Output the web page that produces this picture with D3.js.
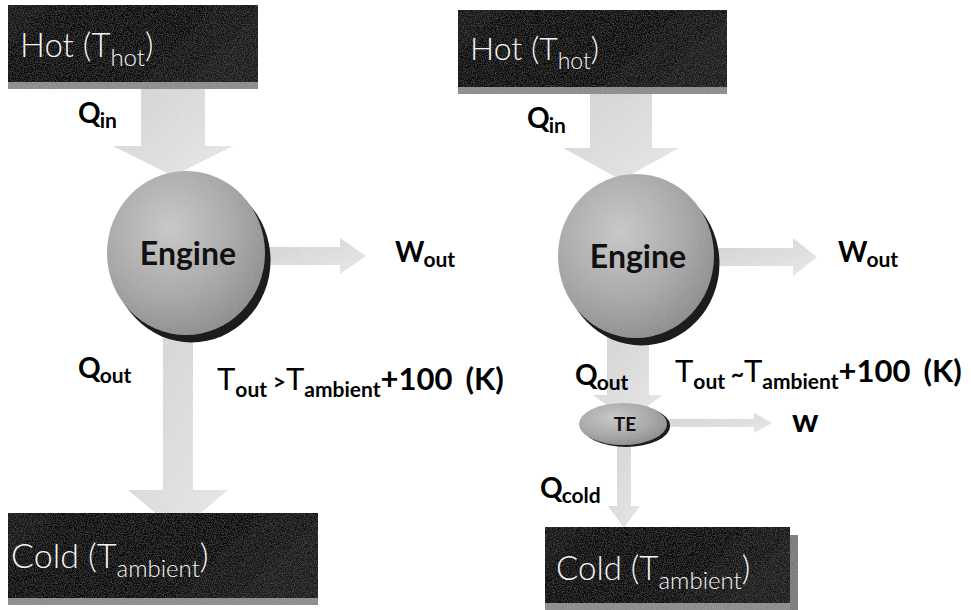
<!DOCTYPE html>
<html>
<head>
<meta charset="utf-8">
<script src="https://cdn.jsdelivr.net/npm/d3@7"></script>
<style>
  body { margin: 0; background: #fff; }
  svg { display: block; font-family: Lato, "Open Sans", sans-serif; }
</style>
</head>
<body>
<div id="diagram"></div>
<script>
// labels of the two panels (text only)
var reservoirLabels = [
  {id: "hotL",  base: "Hot (T",  sub: "hot",     tail: ")"},
  {id: "coldL", base: "Cold (T", sub: "ambient", tail: ")"},
  {id: "hotR",  base: "Hot (T",  sub: "hot",     tail: ")"},
  {id: "coldR", base: "Cold (T", sub: "ambient", tail: ")"}
]
var flowLabels = [
  {id: "qinL",  base: "Q", sub: "in"},
  {id: "woutL", base: "W", sub: "out"},
  {id: "qoutL", base: "Q", sub: "out"},
  {id: "qinR",  base: "Q", sub: "in"},
  {id: "woutR", base: "W", sub: "out"},
  {id: "qoutR", base: "Q", sub: "out"},
  {id: "qcold", base: "Q", sub: "cold"},
  {id: "w",     base: "w", sub: ""}
]
var tempLabels = [
  {id: "tL", rel: " >", rest: "+100", unit: "(K)"},
  {id: "tR", rel: " ~", rest: "+100", unit: "(K)"}
]
var deviceLabels = ["Engine", "Engine", "TE"]

var width = 971, height = 610

// layout (pixel positions)
var boxes = {
  hotL:  {x: 8,   y: 5,   w: 250, h: 77, tx: 20,  ty: 57, fs: 33},
  coldL: {x: 8,   y: 513, w: 310, h: 85, tx: 11,  ty: 568, fs: 34},
  hotR:  {x: 458, y: 10,  w: 269, h: 77, tx: 470, ty: 60, fs: 32},
  coldR: {x: 545, y: 527, w: 245, h: 76, tx: 556, ty: 580, fs: 33}
}
var flowPos = {
  qinL:  {x: 78,  y: 123, fs: 28},
  woutL: {x: 395, y: 262, fs: 28},
  qoutL: {x: 78,  y: 378, fs: 28},
  qinR:  {x: 527, y: 128, fs: 28},
  woutR: {x: 838, y: 262, fs: 28},
  qoutR: {x: 575, y: 385, fs: 28},
  qcold: {x: 540, y: 498, fs: 28},
  w:     {x: 792, y: 432, fs: 33}
}
var tempPos = {tL: {x: 217, y: 390}, tR: {x: 675, y: 382}}
var devices = [
  {cx: 186, cy: 253, rx: 79, ry: 82, fs: 32, ty: 265},
  {cx: 636, cy: 256, rx: 78, ry: 82, fs: 32, ty: 268},
  {cx: 623, cy: 424, rx: 44, ry: 21, fs: 19, ty: 431}
]
// arrows: shaft from (x0,y0) to (x1,y1), shaft half width, head half width, head length
var arrows = [
  {x0: 173, y0: 84,  x1: 173, y1: 176, sw: 32, hw: 60, hl: 30},
  {x0: 262, y0: 256, x1: 366, y1: 256, sw: 9,  hw: 18, hl: 26},
  {x0: 178, y0: 330, x1: 178, y1: 532, sw: 15, hw: 50, hl: 42},
  {x0: 621, y0: 89,  x1: 621, y1: 180, sw: 31, hw: 58, hl: 32},
  {x0: 712, y0: 257, x1: 817, y1: 257, sw: 9,  hw: 19, hl: 24},
  {x0: 628, y0: 330, x1: 628, y1: 420, sw: 21, hw: 35, hl: 25},
  {x0: 660, y0: 423, x1: 772, y1: 423, sw: 4,  hw: 10, hl: 18},
  {x0: 624, y0: 440, x1: 624, y1: 528, sw: 7,  hw: 16, hl: 22}
]

var svg = d3.select("#diagram")
  .append("svg")
    .attr("width", width)
    .attr("height", height)

var defs = svg.append("defs")

// speckle texture to mimic the scanned halftone
function grain(id, grey, alpha) {
  var f = defs.append("filter").attr("id", id)
    .attr("x", 0).attr("y", 0).attr("width", 1).attr("height", 1)
  f.append("feTurbulence").attr("type", "fractalNoise")
    .attr("baseFrequency", 0.9).attr("numOctaves", 2).attr("result", "n")
  f.append("feColorMatrix").attr("in", "n").attr("type", "matrix")
    .attr("values", "0 0 0 0 " + grey + "  0 0 0 0 " + grey + "  0 0 0 0 " + grey + "  " + alpha + " 0 0 0 " + (-alpha * 0.4))
    .attr("result", "g")
  f.append("feComposite").attr("in", "g").attr("in2", "SourceGraphic").attr("operator", "in").attr("result", "gm")
  f.append("feMerge").selectAll("feMergeNode")
    .data(["SourceGraphic", "gm"]).enter()
    .append("feMergeNode").attr("in", function(d) { return d })
}
grain("grain", 0.55, 0.5)
grain("grainDark", 0.4, 0.35)
grain("grainLight", 0.95, 0.6)

var boxGrad = defs.append("linearGradient").attr("id", "boxGrad")
  .attr("x1", 0).attr("x2", 1).attr("y1", 0).attr("y2", 0.3)
boxGrad.append("stop").attr("offset", "0%").attr("stop-color", "#151515")
boxGrad.append("stop").attr("offset", "55%").attr("stop-color", "#080808")
boxGrad.append("stop").attr("offset", "100%").attr("stop-color", "#1c1c1c")

var ballGrad = defs.append("radialGradient").attr("id", "ballGrad")
  .attr("cx", "40%").attr("cy", "35%").attr("r", "70%")
ballGrad.append("stop").attr("offset", "0%").attr("stop-color", "#c9c9c9")
ballGrad.append("stop").attr("offset", "60%").attr("stop-color", "#a8a8a8")
ballGrad.append("stop").attr("offset", "100%").attr("stop-color", "#8a8a8a")

var arrowGrad = defs.append("linearGradient").attr("id", "arrowGrad")
  .attr("x1", 0).attr("x2", 1).attr("y1", 0).attr("y2", 1)
arrowGrad.append("stop").attr("offset", "0%").attr("stop-color", "#d0d0d0")
arrowGrad.append("stop").attr("offset", "100%").attr("stop-color", "#e6e6e6")

// arrows first so the discs sit over them
function arrowPath(a) {
  var dx = a.x1 - a.x0, dy = a.y1 - a.y0
  var len = Math.sqrt(dx * dx + dy * dy)
  var ux = dx / len, uy = dy / len, px = -uy, py = ux
  var bx = a.x1 - ux * a.hl, by = a.y1 - uy * a.hl
  var pts = [
    [a.x0 + px * a.sw, a.y0 + py * a.sw],
    [bx + px * a.sw, by + py * a.sw],
    [bx + px * a.hw, by + py * a.hw],
    [a.x1, a.y1],
    [bx - px * a.hw, by - py * a.hw],
    [bx - px * a.sw, by - py * a.sw],
    [a.x0 - px * a.sw, a.y0 - py * a.sw]
  ]
  return d3.line()(pts) + "Z"
}
svg.append("g").selectAll("path")
  .data(arrows)
  .enter()
  .append("path")
    .attr("d", arrowPath)
    .style("fill", "url(#arrowGrad)")
    .attr("filter", "url(#grainLight)")

// reservoirs
var res = svg.append("g").selectAll("g")
  .data(reservoirLabels)
  .enter()
  .append("g")
res.append("rect")
  .attr("x", function(d) { return boxes[d.id].x })
  .attr("y", function(d) { return boxes[d.id].y + boxes[d.id].h })
  .attr("width", function(d) { return boxes[d.id].w })
  .attr("height", 7)
  .style("fill", "#8c8c8c")
  .attr("filter", "url(#grain)")
res.append("rect")
  .attr("x", function(d) { return boxes[d.id].x + boxes[d.id].w })
  .attr("y", function(d) { return boxes[d.id].y + 8 })
  .attr("width", function(d) { return d.id == "coldR" ? 8 : 0 })
  .attr("height", function(d) { return boxes[d.id].h })
  .style("fill", "#7a7a7a")
  .attr("filter", "url(#grain)")
res.append("rect")
  .attr("x", function(d) { return boxes[d.id].x })
  .attr("y", function(d) { return boxes[d.id].y })
  .attr("width", function(d) { return boxes[d.id].w })
  .attr("height", function(d) { return boxes[d.id].h })
  .style("fill", "url(#boxGrad)")
  .attr("filter", "url(#grainDark)")
var resText = res.append("text")
  .attr("x", function(d) { return boxes[d.id].tx })
  .attr("y", function(d) { return boxes[d.id].ty })
  .style("fill", "#f4f4f4")
  .style("font-size", function(d) { return boxes[d.id].fs + "px" })
  .style("font-weight", 300)
resText.append("tspan").text(function(d) { return d.base })
resText.append("tspan").attr("dy", 9)
  .style("font-size", function(d) { return Math.round(boxes[d.id].fs * 0.72) + "px" })
  .text(function(d) { return d.sub })
resText.append("tspan").attr("dy", -9).text(function(d) { return d.tail })

// engine and TE discs
var dev = svg.append("g").selectAll("g")
  .data(devices)
  .enter()
  .append("g")
dev.append("ellipse")
  .attr("cx", function(d) { return d.cx + d.rx * 0.07 })
  .attr("cy", function(d) { return d.cy + d.ry * 0.09 })
  .attr("rx", function(d) { return d.rx })
  .attr("ry", function(d) { return d.ry })
  .style("fill", "#1c1c1c")
dev.append("ellipse")
  .attr("cx", function(d) { return d.cx })
  .attr("cy", function(d) { return d.cy })
  .attr("rx", function(d) { return d.rx })
  .attr("ry", function(d) { return d.ry })
  .style("fill", "url(#ballGrad)")
  .attr("filter", "url(#grain)")
dev.append("text")
  .attr("x", function(d) { return d.cx + 2 })
  .attr("y", function(d) { return d.ty })
  .attr("text-anchor", "middle")
  .style("font-size", function(d) { return d.fs + "px" })
  .style("font-weight", "bold")
  .style("fill", "#111")
  .text(function(d, i) { return deviceLabels[i] })

// flow labels
var fl = svg.append("g").selectAll("text")
  .data(flowLabels)
  .enter()
  .append("text")
    .attr("x", function(d) { return flowPos[d.id].x })
    .attr("y", function(d) { return flowPos[d.id].y })
    .style("font-size", function(d) { return flowPos[d.id].fs + "px" })
    .style("font-weight", "bold")
    .style("fill", "#000")
fl.append("tspan").text(function(d) { return d.base })
fl.append("tspan").attr("dx", -1).attr("dy", 5).style("font-size", "21px").text(function(d) { return d.sub })

// temperature conditions
var tl = svg.append("g").selectAll("text")
  .data(tempLabels)
  .enter()
  .append("text")
    .attr("x", function(d) { return tempPos[d.id].x })
    .attr("y", function(d) { return tempPos[d.id].y })
    .style("font-size", "31px")
    .style("fill", "#000")
tl.append("tspan").text("T")
tl.append("tspan").attr("dy", 7).style("font-size", "21px").style("font-weight", "bold").text("out")
tl.append("tspan").attr("dy", -7).style("font-size", "23px").style("font-weight", "bold").text(function(d) { return d.rel })
tl.append("tspan").text("T")
tl.append("tspan").attr("dy", 7).style("font-size", "21px").style("font-weight", "bold").text("ambient")
tl.append("tspan").attr("dy", -7).style("font-weight", "bold").text(function(d) { return d.rest })
tl.append("tspan").attr("dx", 13).style("font-weight", "bold").text(function(d) { return d.unit })
</script>
</body>
</html>
